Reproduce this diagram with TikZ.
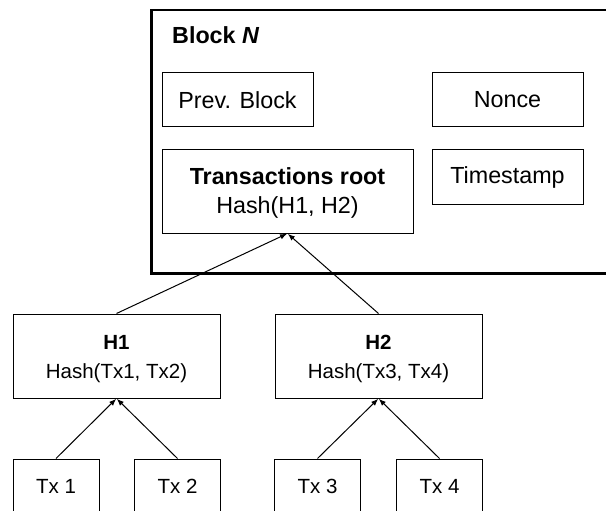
\documentclass[tikz,border=0pt]{standalone}
\usepackage{fontspec}
\setmainfont{Liberation Sans}
\usepackage{tikz}
\usetikzlibrary{arrows.meta}

\newcommand{\firstline}{\rule{0pt}{20.5pt}}

\tikzset{
  box/.style={draw, line width=1pt, inner sep=0pt, align=center,
    font=\fontsize{20.5}{29}\selectfont},
  bigbox/.style={box, font=\fontsize{23.3}{29}\selectfont},
  link/.style={line width=1pt, -{Latex[length=7pt,width=5.5pt]}, shorten >=0.5pt}
}

\begin{document}
\begin{tikzpicture}[x=1pt,y=1pt,yscale=-1,xscale=1]
\useasboundingbox (0,0) rectangle (606,511);
\clip (0,0) rectangle (606,511);

%Shape: Rectangle [block]
\node (block) [draw, line width=2.5pt, minimum width=470, minimum height=263, anchor=north west] at (150,9) {};
% Text Node
\node (blocklabel) [anchor=west, inner sep=0pt, font=\fontsize{23.3}{29}\selectfont\bfseries] at (172,35.5) {Block \textit{N}};

%Shape: Rectangle [header fields]
\node (prev) [bigbox, minimum width=151, minimum height=54] at (237.5,100) {Prev. Block};
\node (nonce) [bigbox, minimum width=151, minimum height=54] at (507.5,100) {Nonce};
\node (stamp) [bigbox, minimum width=151, minimum height=54] at (507.5,177) {Timestamp};
\node (root) [bigbox, minimum width=251, minimum height=83] at (287.5,191.5) {\firstline\textbf{Transactions root}\\Hash(H1, H2)};

%Shape: Rectangle [hashes]
\node (h1) [box, minimum width=207, minimum height=84] at (116.5,356) {\firstline\textbf{H1}\\Hash(Tx1, Tx2)};
\node (h2) [box, minimum width=207, minimum height=84] at (378.5,356) {\firstline\textbf{H2}\\Hash(Tx3, Tx4)};

%Shape: Rectangle [transactions]
\node (tx1) [box, minimum width=86, minimum height=54] at (56,486) {Tx 1};
\node (tx2) [box, minimum width=86, minimum height=54] at (177.5,486) {Tx 2};
\node (tx3) [box, minimum width=86, minimum height=54] at (317.5,486) {Tx 3};
\node (tx4) [box, minimum width=86, minimum height=54] at (439.5,486) {Tx 4};

%Straight Lines
\draw [link] (h1.north) -- (root.south);
\draw [link] (h2.north) -- (root.south);
\draw [link] (tx1.north) -- (h1.south);
\draw [link] (tx2.north) -- (h1.south);
\draw [link] (tx3.north) -- (h2.south);
\draw [link] (tx4.north) -- (h2.south);

\end{tikzpicture}
\end{document}
